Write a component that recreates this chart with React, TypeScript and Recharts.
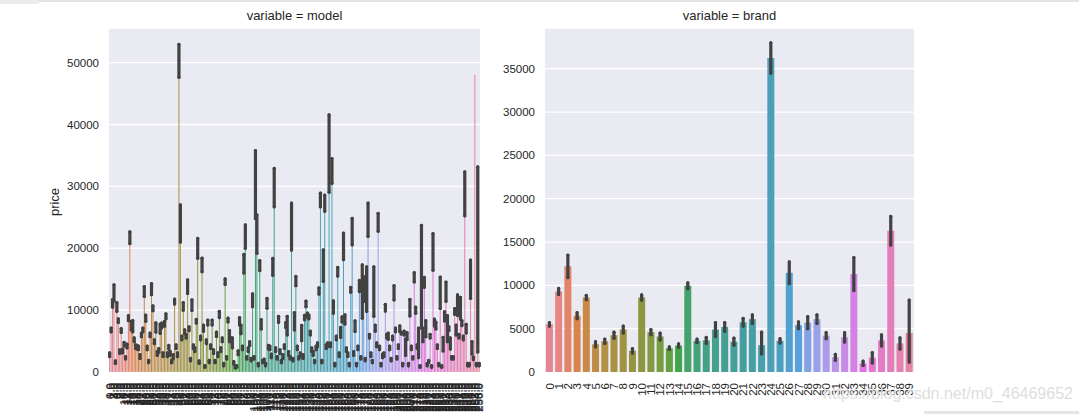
import { BarChart, Bar, XAxis, YAxis, CartesianGrid, Cell, ErrorBar } from "recharts"

// mean price per model (left panel) and the half width of its confidence interval
const modelPrice = [
  2800, 6800, 11100, 12800, 1600, 10500, 8300, 3300, 6700, 3400,
  4500, 2300, 4200, 8700, 21700, 7500, 7400, 5200, 4100, 4000,
  3900, 2500, 6000, 6800, 13000, 8700, 3900, 1700, 6000, 13400,
  10300, 4900, 7200, 3000, 3500, 7000, 7500, 2800, 7800, 9000,
  2800, 4000, 3000, 1700, 2500, 11400, 4100, 2800, 50300, 24000,
  5500, 10600, 6500, 5800, 13800, 7000, 2000, 10800, 4100, 3600,
  8200, 20000, 1600, 5500, 17300, 7100, 900, 4900, 8000, 1700,
  4100, 8000, 3300, 1700, 6100, 2800, 9300, 3600, 5200, 1200,
  14600, 2300, 8400, 5800, 5200, 4700, 1500, 800, 900, 3100,
  8200, 6900, 3900, 17500, 21900, 2300, 3600, 4600, 2000, 11600,
  2300, 30300, 22300, 1200, 17200, 7700, 1700, 1900, 1200, 11100,
  4000, 3900, 2600, 17000, 29800, 3600, 2300, 8500, 3300, 1700,
  2500, 4100, 7600, 7500, 3000, 2300, 23500, 2000, 8200, 14700,
  3900, 2300, 2800, 6300, 2500, 8800, 11000, 9200, 8900, 6300,
  3600, 3000, 1700, 3900, 4400, 13100, 27800, 1700, 17200, 27300,
  4100, 4400, 35300, 4400, 32500, 10500, 1200, 5500, 16200, 2800,
  6400, 8500, 20300, 8500, 3600, 2800, 1200, 13300, 22700, 3000,
  7400, 1200, 3900, 13900, 2300, 13000, 13400, 2000, 13400, 24600,
  5800, 2800, 1700, 13000, 7100, 4400, 24200, 3900, 1200, 2600,
  2800, 10400, 5800, 5800, 3900, 2000, 5500, 12800, 6800, 2300,
  4100, 7000, 6300, 1200, 6300, 4000, 5800, 1200, 10400, 3900,
  2300, 15300, 10000, 4100, 4700, 900, 15400, 6000, 14500, 7000,
  1200, 1700, 5800, 900, 19400, 8000, 7500, 4100, 1200, 12800,
  900, 4500, 9000, 13000, 7000, 7000, 4600, 2300, 2300, 9800,
  6800, 10800, 5800, 10300, 7900, 5500, 28800, 7000, 1200, 1200,
  15000, 3900, 2200, 48000, 1200, 18200, 1200,
]

const modelErr = [
  300, 300, 600, 1300, 200, 700, 300, 300, 300, 300,
  300, 200, 300, 400, 950, 700, 900, 300, 300, 300,
  300, 300, 300, 300, 800, 500, 300, 200, 300, 900,
  400, 300, 750, 300, 300, 750, 400, 300, 400, 400,
  300, 300, 300, 200, 300, 400, 300, 300, 2650, 3000,
  300, 600, 300, 300, 1100, 300, 200, 850, 300, 300,
  300, 1600, 200, 300, 1100, 500, 150, 300, 400, 200,
  300, 400, 300, 200, 350, 300, 500, 300, 300, 200,
  450, 200, 300, 900, 300, 800, 200, 150, 150, 300,
  600, 700, 300, 1500, 1900, 200, 300, 300, 200, 1050,
  200, 5500, 3100, 200, 800, 750, 200, 200, 200, 800,
  300, 300, 300, 1350, 3100, 300, 200, 500, 300, 200,
  300, 300, 400, 1500, 300, 200, 3800, 200, 1400, 750,
  300, 200, 300, 1250, 300, 350, 450, 300, 300, 300,
  300, 300, 200, 300, 300, 500, 1100, 200, 2550, 1300,
  300, 300, 6250, 300, 2000, 1000, 200, 300, 700, 300,
  800, 400, 2150, 750, 300, 300, 200, 400, 2150, 300,
  850, 200, 300, 900, 200, 4300, 2000, 200, 3600, 2700,
  300, 300, 200, 4000, 500, 300, 1450, 300, 200, 300,
  300, 550, 300, 500, 300, 200, 300, 1150, 300, 200,
  300, 450, 150, 200, 300, 1300, 550, 200, 1350, 300,
  200, 750, 500, 300, 2400, 150, 8300, 1100, 800, 1300,
  200, 200, 300, 150, 2950, 550, 550, 300, 200, 2550,
  150, 1100, 750, 1550, 2100, 300, 900, 200, 200, 450,
  800, 1650, 300, 1750, 400, 300, 3550, 700, 200, 200,
  3100, 1000, 200, 0, 200, 14950, 200,
]

const modelLabels = modelPrice.map((_, i) => `${i}.0`)

const brandLabels = [
  "0", "1", "2", "3", "4", "5", "6", "7", "8", "9",
  "10", "11", "12", "13", "14", "15", "16", "17", "18", "19",
  "20", "21", "22", "23", "24", "25", "26", "27", "28", "29",
  "30", "31", "32", "33", "34", "35", "36", "37", "38", "39",
]
const brandPrice = [
  5500, 9300, 12200, 6500, 8600, 3200, 3550, 4250, 4900, 2450,
  8600, 4600, 4100, 2750, 3050, 9950, 3600, 3650, 4900, 5200,
  3500, 5750, 6100, 3100, 36250, 3600, 11450, 5400, 5700, 6100,
  4200, 1700, 4000, 11300, 1000, 1650, 3650, 16300, 3300, 4500,
]
const brandErrLow = [
  200, 350, 1300, 350, 250, 300, 250, 350, 400, 250,
  300, 300, 400, 150, 200, 350, 200, 350, 800, 500,
  400, 450, 500, 1000, 1750, 250, 1250, 400, 700, 500,
  350, 350, 550, 1900, 250, 600, 650, 1650, 650, 3350,
]
const brandErrHigh = [
  200, 350, 1300, 350, 250, 300, 250, 350, 400, 250,
  300, 300, 400, 150, 200, 350, 200, 350, 800, 500,
  400, 450, 500, 1500, 1750, 250, 1250, 400, 700, 500,
  350, 350, 550, 1900, 250, 600, 650, 1650, 650, 3800,
]

const modelTicks = [0, 10000, 20000, 30000, 40000, 50000]
const brandTicks = [0, 5000, 10000, 15000, 20000, 25000, 30000, 35000]

// seaborn's husl palette, desaturated like barplot does
const M = [
  [3.2406, -1.5372, -0.4986],
  [-0.9689, 1.8758, 0.0415],
  [0.0557, -0.204, 1.057],
]

function maxChroma(L: number, H: number) {
  const hrad = (H * Math.PI) / 180
  const sinH = Math.sin(hrad)
  const cosH = Math.cos(hrad)
  const sub1 = Math.pow(L + 16, 3) / 1560896
  const sub2 = sub1 > 0.008856 ? sub1 : L / 903.3
  let result = Infinity
  for (const [m1, m2, m3] of M) {
    const top = (0.99915 * m1 + 1.05122 * m2 + 1.1446 * m3) * sub2
    const rbottom = 0.8633 * m3 - 0.17266 * m2
    const lbottom = 0.12949 * m3 - 0.38848 * m1
    const bottom = (rbottom * sinH + lbottom * cosH) * sub2
    for (const t of [0, 1]) {
      const C = (L * (top - 1.05122 * t)) / (bottom + 0.17266 * sinH * t)
      if (C > 0 && C < result) result = C
    }
  }
  return result
}

function huslToRgb(H: number, S: number, L: number) {
  const C = (maxChroma(L, H) / 100) * S
  const hrad = (H * Math.PI) / 180
  const U = Math.cos(hrad) * C
  const V = Math.sin(hrad) * C
  const t = (L + 16) / 116
  const varY = Math.pow(t, 3) > 0.008856 ? Math.pow(t, 3) : (116 * t - 16) / 903.3
  const varU = U / (13 * L) + 0.19784
  const varV = V / (13 * L) + 0.46834
  const Y = varY
  const X = -(9 * Y * varU) / ((varU - 4) * varV - varU * varV)
  const Z = (9 * Y - 15 * varV * Y - varV * X) / (3 * varV)
  return M.map((row) => {
    const c = row[0] * X + row[1] * Y + row[2] * Z
    const v = c <= 0.0031308 ? 12.92 * c : 1.055 * Math.pow(c, 1 / 2.4) - 0.055
    return Math.min(1, Math.max(0, v))
  })
}

function desaturate([r, g, b]: number[], prop: number) {
  const maxc = Math.max(r, g, b)
  const minc = Math.min(r, g, b)
  const l = (maxc + minc) / 2
  if (maxc === minc) return [r, g, b]
  let s = l <= 0.5 ? (maxc - minc) / (maxc + minc) : (maxc - minc) / (2 - maxc - minc)
  const rc = (maxc - r) / (maxc - minc)
  const gc = (maxc - g) / (maxc - minc)
  const bc = (maxc - b) / (maxc - minc)
  let h = r === maxc ? bc - gc : g === maxc ? 2 + rc - bc : 4 + gc - rc
  h = (((h / 6) % 1) + 1) % 1
  s *= prop
  const m2 = l <= 0.5 ? l * (1 + s) : l + s - l * s
  const m1 = 2 * l - m2
  const v = (hue: number) => {
    hue = ((hue % 1) + 1) % 1
    if (hue < 1 / 6) return m1 + (m2 - m1) * hue * 6
    if (hue < 0.5) return m2
    if (hue < 2 / 3) return m1 + (m2 - m1) * (2 / 3 - hue) * 6
    return m1
  }
  return [v(h + 1 / 3), v(h), v(h - 1 / 3)]
}

function palette(n: number) {
  return Array.from({ length: n }, (_, i) => {
    const h = ((i / n + 0.01) % 1) * 359
    const rgb = desaturate(huslToRgb(h, 89.1, 65), 0.75)
    return "#" + rgb.map((c) => Math.round(c * 255).toString(16).padStart(2, "0")).join("")
  })
}

const modelData = modelLabels.map((name, i) => ({ name, price: modelPrice[i], err: modelErr[i] }))
const brandData = brandLabels.map((name, i) => ({
  name,
  price: brandPrice[i],
  err: [brandErrLow[i], brandErrHigh[i]],
}))
const modelColors = palette(modelData.length)
const brandColors = palette(brandData.length)

const TEXT = "#262626"

function RotatedTick(props: any) {
  const { x, y, payload } = props
  return (
    <text
      x={x}
      y={y}
      transform={`rotate(-90 ${x} ${y})`}
      textAnchor="end"
      dominantBaseline="central"
      fontSize={11.5}
      fill={TEXT}
    >
      {payload.value}
    </text>
  )
}

function Panel({ data, colors, ticks, max, yWidth, margin, width }: any) {
  return (
    <BarChart
      width={width}
      height={414}
      data={data}
      margin={margin}
      barCategoryGap="10%"
    >
      <CartesianGrid vertical={false} stroke="#ffffff" strokeWidth={1.3} fill="#EAEAF2" />
      <XAxis
        dataKey="name"
        interval={0}
        height={40}
        axisLine={false}
        tickLine={false}
        tickSize={0}
        tickMargin={11}
        tick={<RotatedTick />}
      />
      <YAxis
        width={yWidth}
        domain={[0, max]}
        ticks={ticks}
        axisLine={false}
        tickLine={false}
        tickSize={0}
        tickMargin={10}
        tick={{ fontSize: 11.5, fill: TEXT }}
      />
      <Bar dataKey="price" isAnimationActive={false}>
        {data.map((_: any, i: number) => (
          <Cell key={`cell-${i}`} fill={colors[i]} />
        ))}
        <ErrorBar
          dataKey="err"
          direction="y"
          width={0}
          stroke="#424242"
          strokeWidth={3.2}
          strokeLinecap="round"
        />
      </Bar>
    </BarChart>
  )
}

export default function App() {
  return (
    <div
      style={{
        position: "fixed",
        left: 0,
        top: 0,
        width: 1079,
        height: 414,
        background: "#ffffff",
        overflow: "hidden",
        fontFamily: '"Liberation Sans", Arial, sans-serif',
        color: TEXT,
      }}
    >
      <div style={{ position: "absolute", left: 0, top: 0, width: 1079, height: 2, background: "#e4e4e4" }} />
      <div style={{ position: "absolute", left: 0, top: 0, width: 39, height: 4, background: "#ececec" }} />
      <div style={{ position: "absolute", left: 924, top: 411, width: 155, height: 3, background: "#e6e6e6" }} />

      <div style={{ position: "absolute", left: 0, top: 0 }}>
        <Panel
          data={modelData}
          colors={modelColors}
          ticks={modelTicks}
          max={55600}
          yWidth={60}
          width={490}
          margin={{ top: 28, right: 10, bottom: 2, left: 49 }}
        />
      </div>
      <div style={{ position: "absolute", left: 490, top: 0 }}>
        <Panel
          data={brandData}
          colors={brandColors}
          ticks={brandTicks}
          max={39700}
          yWidth={50}
          width={440}
          margin={{ top: 28, right: 16, bottom: 2, left: 5 }}
        />
      </div>

      <div style={{ position: "absolute", left: 109, width: 371, top: 8, textAlign: "center", fontSize: 13, lineHeight: "16px" }}>
        variable = model
      </div>
      <div style={{ position: "absolute", left: 545, width: 369, top: 8, textAlign: "center", fontSize: 13, lineHeight: "16px" }}>
        variable = brand
      </div>
      <div
        style={{
          position: "absolute",
          left: 54,
          top: 202,
          fontSize: 13,
          whiteSpace: "nowrap",
          transform: "translate(-50%, -50%) rotate(-90deg)",
        }}
      >
        price
      </div>
      <div style={{ position: "absolute", left: 823, top: 385, fontSize: 16, color: "#dedede", whiteSpace: "nowrap" }}>
        https://blog.csdn.net/m0_46469652
      </div>
    </div>
  )
}
